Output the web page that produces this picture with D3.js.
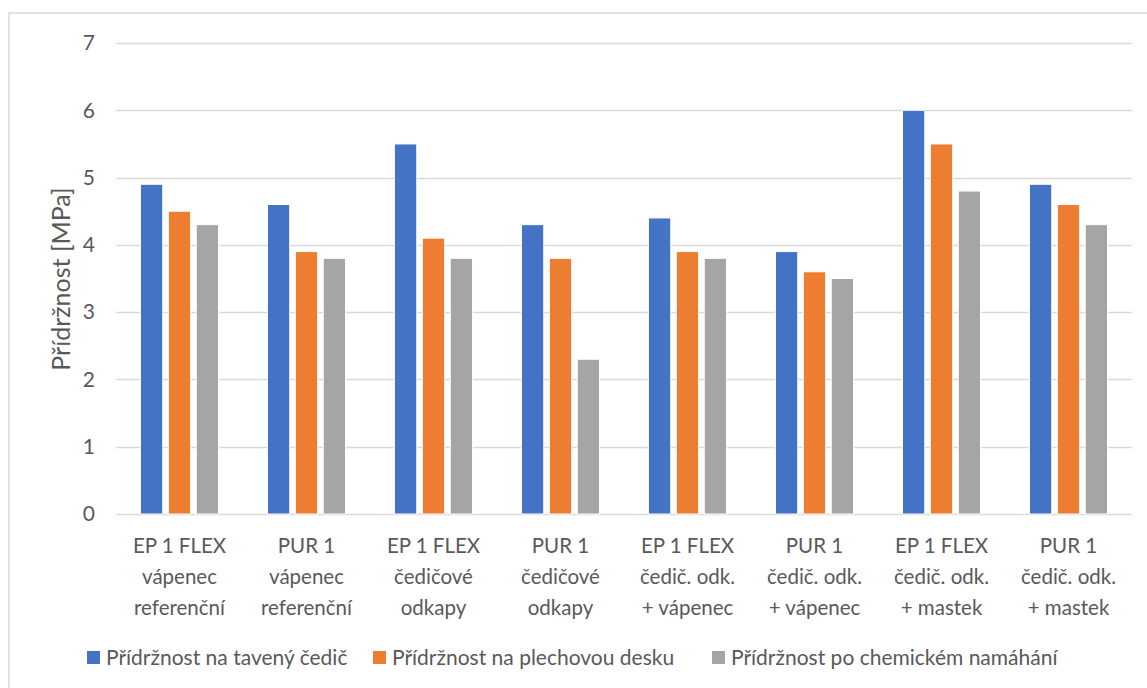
<!DOCTYPE html>
<html>
<head>
<meta charset="utf-8">
<script src="https://cdn.jsdelivr.net/npm/d3@7"></script>
<style>
  html, body { margin: 0; padding: 0; background: #fff; }
  svg { display: block; font-family: Lato, "Open Sans", sans-serif; }
</style>
</head>
<body>
<svg id="chart" width="1147" height="688"></svg>
<script>
// Category labels (each split into lines)
const categories = [
  ["EP 1 FLEX", "vápenec", "referenční"],
  ["PUR 1", "vápenec", "referenční"],
  ["EP 1 FLEX", "čedičové", "odkapy"],
  ["PUR 1", "čedičové", "odkapy"],
  ["EP 1 FLEX", "čedič. odk.", "+ vápenec"],
  ["PUR 1", "čedič. odk.", "+ vápenec"],
  ["EP 1 FLEX", "čedič. odk.", "+ mastek"],
  ["PUR 1", "čedič. odk.", "+ mastek"]
];
const seriesNames = [
  "Přídržnost na tavený čedič",
  "Přídržnost na plechovou desku",
  "Přídržnost po chemickém namáhání"
];
const taveny   = [4.9, 4.6, 5.5, 4.3, 4.4, 3.9, 6.0, 4.9];
const plechova = [4.5, 3.9, 4.1, 3.8, 3.9, 3.6, 5.5, 4.6];
const chemicke = [4.3, 3.8, 3.8, 2.3, 3.8, 3.5, 4.8, 4.3];
const yTicks = [0, 1, 2, 3, 4, 5, 6, 7];
const colors = ["#4472C4", "#ED7D31", "#A5A5A5"];

const seriesValues = [taveny, plechova, chemicke];

const svg = d3.select("#chart");
const textColor = "#595959";

// chart frame
svg.append("rect")
  .attr("x", 9).attr("y", 13)
  .attr("width", 1160).attr("height", 700)
  .attr("fill", "none").attr("stroke", "#d9d9d9").attr("stroke-width", 1.5);

const plot = { left: 116, right: 1132, top: 43, bottom: 514 };

const x0 = d3.scaleBand()
  .domain(d3.range(categories.length))
  .range([plot.left, plot.right])
  .paddingInner(0.385).paddingOuter(0.1925);

const x1 = d3.scaleBand()
  .domain(d3.range(seriesNames.length))
  .range([0, x0.bandwidth()])
  .paddingInner(0.2);

const y = d3.scaleLinear().domain([0, 7]).range([plot.bottom, plot.top]);

// gridlines
svg.append("g").selectAll("line")
  .data(yTicks)
  .join("line")
  .attr("x1", plot.left).attr("x2", plot.right)
  .attr("y1", d => Math.round(y(d)) + 0.5).attr("y2", d => Math.round(y(d)) + 0.5)
  .attr("stroke", "#d9d9d9").attr("stroke-width", 1.5);

// y tick labels
const yAxis = d3.axisLeft(y).tickValues(yTicks).tickFormat(d3.format("d"))
  .tickSize(0).tickPadding(0);
const yG = svg.append("g").attr("transform", `translate(95,0)`).call(yAxis);
yG.select(".domain").remove();
yG.selectAll("text")
  .attr("fill", textColor)
  .style("font-size", "21px")
  .style("font-family", "Lato, 'Open Sans', sans-serif");

// bars
const groups = svg.append("g").selectAll("g")
  .data(categories.map((c, i) => i))
  .join("g")
  .attr("transform", i => `translate(${x0(i)},0)`);

groups.selectAll("rect")
  .data(i => seriesValues.map((vals, s) => ({ s, v: vals[i] })))
  .join("rect")
  .attr("x", d => x1(d.s))
  .attr("width", x1.bandwidth())
  .attr("y", d => y(d.v))
  .attr("height", d => y(0) - y(d.v))
  .attr("fill", d => colors[d.s])
  .attr("stroke", "#fff")
  .attr("stroke-width", 1);

// x axis category labels
const xAxis = d3.axisBottom(x0).tickSize(0).tickFormat(() => "");
const xG = svg.append("g").attr("transform", `translate(0,${plot.bottom})`).call(xAxis);
xG.select(".domain").remove();
xG.selectAll(".tick").each(function (i) {
  const t = d3.select(this).append("text")
    .attr("fill", textColor)
    .attr("text-anchor", "middle")
    .style("font-size", "20.5px")
    .style("font-family", "Lato, 'Open Sans', sans-serif");
  categories[i].forEach((line, k) => {
    t.append("tspan").attr("x", 0).attr("y", 39 + k * 31).text(line);
  });
});

// y axis title
svg.append("text")
  .attr("transform", "translate(70,279) rotate(-90)")
  .attr("text-anchor", "middle")
  .attr("fill", textColor)
  .style("font-size", "25px")
  .text("Přídržnost [MPa]");

// legend
const legendX = [87, 373, 712];
const legend = svg.append("g").selectAll("g")
  .data(seriesNames)
  .join("g")
  .attr("transform", (d, i) => `translate(${legendX[i]},651)`);
legend.append("rect")
  .attr("width", 13).attr("height", 13)
  .attr("fill", (d, i) => colors[i]);
legend.append("text")
  .attr("x", 19).attr("y", 14)
  .attr("fill", textColor)
  .style("font-size", "21px")
  .text(d => d);
</script>
</body>
</html>
